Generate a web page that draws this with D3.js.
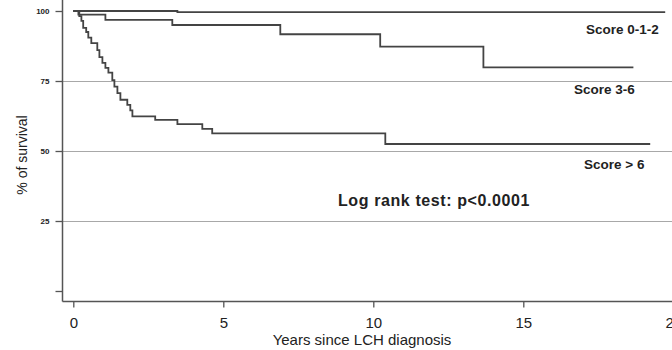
<!DOCTYPE html>
<html>
<head>
<meta charset="utf-8">
<script src="https://cdn.jsdelivr.net/npm/d3@7"></script>
<style>
  html, body { margin: 0; padding: 0; background: #fff; }
  svg { display: block; font-family: "Liberation Sans", Arial, sans-serif; }
</style>
</head>
<body>
<svg id="chart" width="672" height="350"></svg>
<script>
// Kaplan-Meier survival estimates (years since diagnosis, % surviving)
const lowTimes  = [0, 3.47, 19.73];
const lowSurv   = [100, 99.6, 99.6];

const midTimes  = [0, 0.17, 1.07, 3.3, 6.9, 10.23, 13.67, 18.67];
const midSurv   = [100, 98.7, 96.8, 95.0, 91.7, 87.25, 79.9, 79.9];

const highTimes = [0, 0.2, 0.27, 0.33, 0.43, 0.5, 0.6, 0.8, 0.87, 0.97, 1.07, 1.17, 1.3, 1.37, 1.47, 1.57, 1.8, 1.9, 1.97, 2.73, 3.47, 4.3, 4.63, 10.4, 19.23];
const highSurv  = [100, 98.2, 96.5, 94.0, 92.5, 90.5, 88.5, 86.0, 83.5, 81.5, 79.7, 78.0, 75.3, 73.0, 70.7, 68.3, 66.5, 64.5, 62.4, 61.1, 59.6, 57.9, 56.3, 52.5, 52.5];

const seriesNames = ["Score 0-1-2", "Score 3-6", "Score > 6"];
const xTicks = [0, 5, 10, 15, 20];
const yTicks = [0, 25, 50, 75, 100];
const yTickLabels = ["", "25", "50", "75", "100"];
const gridValues = [25, 50, 75];

const svg = d3.select("#chart");
const x = d3.scaleLinear().domain([0, 20]).range([73.3, 673.3]);
const y = d3.scaleLinear().domain([0, 100]).range([291, 11]);
const axisX = 62.5, axisY = 301.5;

// horizontal reference lines
svg.append("g").selectAll("line").data(gridValues).join("line")
  .attr("x1", axisX).attr("x2", 672)
  .attr("y1", d => Math.round(y(d)) + 0.5).attr("y2", d => Math.round(y(d)) + 0.5)
  .attr("stroke", "#a8a8a8").attr("stroke-width", 1.2);

// y axis
const yAxis = d3.axisLeft(y).tickValues(yTicks)
  .tickFormat((d, i) => yTickLabels[i]).tickSize(7).tickPadding(6);
const gy = svg.append("g").attr("transform", `translate(${axisX},0)`).call(yAxis);
gy.select(".domain").remove();
gy.selectAll(".tick line").attr("stroke", "#555").attr("stroke-width", 1.3);
gy.selectAll(".tick text").attr("fill", "#222").attr("font-size", 8)
  .attr("font-weight", "bold").attr("font-family", "'Liberation Sans', Arial, sans-serif");
svg.append("line").attr("x1", axisX).attr("x2", axisX).attr("y1", 0).attr("y2", axisY)
  .attr("stroke", "#555").attr("stroke-width", 1.5);

// x axis
const xAxis = d3.axisBottom(x).tickValues(xTicks).tickSize(6).tickPadding(10);
const gx = svg.append("g").attr("transform", `translate(0,${axisY})`).call(xAxis);
gx.select(".domain").remove();
gx.selectAll(".tick line").attr("stroke", "#555").attr("stroke-width", 1.3);
gx.selectAll(".tick text").attr("fill", "#222").attr("font-size", 15)
  .attr("font-family", "'Liberation Sans', Arial, sans-serif");
svg.append("line").attr("x1", axisX).attr("x2", 672).attr("y1", axisY).attr("y2", axisY)
  .attr("stroke", "#555").attr("stroke-width", 1.5);

// survival curves
const line = d3.line().x(d => x(d[0])).y(d => y(d[1])).curve(d3.curveStepAfter);
const curves = [
  d3.zip(lowTimes, lowSurv),
  d3.zip(midTimes, midSurv),
  d3.zip(highTimes, highSurv)
];
svg.append("g").selectAll("path").data(curves).join("path")
  .attr("d", line).attr("fill", "none")
  .attr("stroke", "#444").attr("stroke-width", 1.8);

// curve labels
const labelPos = [[586, 34], [574, 94], [584, 169]];
svg.append("g").selectAll("text").data(seriesNames).join("text")
  .attr("x", (d, i) => labelPos[i][0]).attr("y", (d, i) => labelPos[i][1])
  .attr("font-size", 13.5).attr("font-weight", "bold").attr("fill", "#222")
  .text(d => d);

svg.append("text").attr("x", 338).attr("y", 206)
  .attr("font-size", 16).attr("font-weight", "bold").attr("fill", "#222")
  .attr("letter-spacing", 0.6)
  .text("Log rank test: p<0.0001");

// axis titles
svg.append("text").attr("x", 362).attr("y", 345).attr("text-anchor", "middle")
  .attr("font-size", 15).attr("fill", "#222").text("Years since LCH diagnosis");
svg.append("text").attr("transform", "translate(27,155) rotate(-90)")
  .attr("text-anchor", "middle").attr("font-size", 14).attr("fill", "#222")
  .text("% of survival");
</script>
</body>
</html>
